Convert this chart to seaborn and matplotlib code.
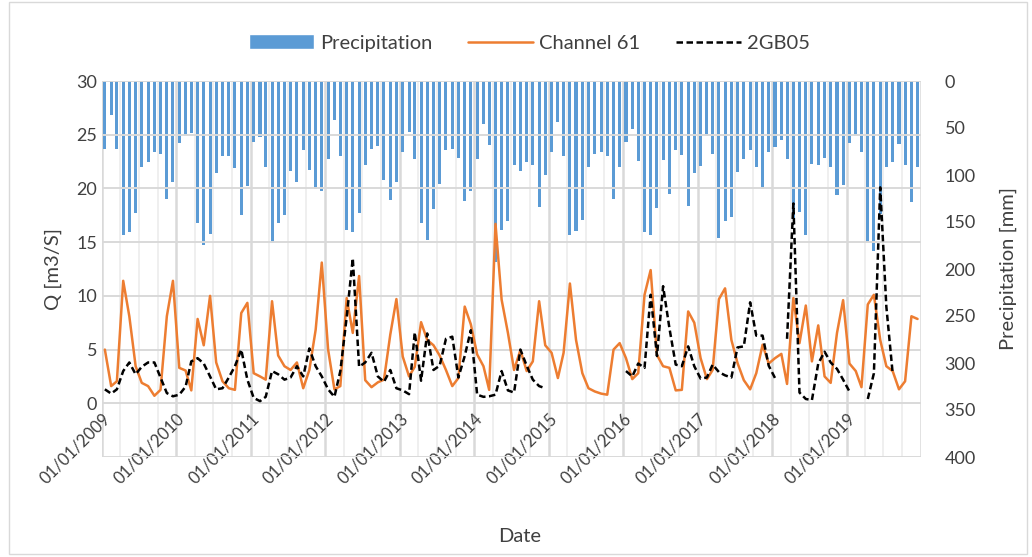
import numpy as np
import pandas as pd
import matplotlib.pyplot as plt
import matplotlib.dates as mdates
import seaborn as sns
from matplotlib.lines import Line2D
from matplotlib.patches import Patch, Rectangle
from matplotlib.ticker import FuncFormatter

# Monthly precipitation [mm], Jan 2009 - Dec 2019
precip = [72, 36.5, 72.7, 164, 161, 140, 91, 86, 75, 78, 125, 107,
          66, 57, 55, 151, 174, 163, 98, 80, 80, 93, 143, 112,
          65, 60, 91, 172, 151, 143, 96, 107, 73, 95, 115, 117,
          83, 41.5, 80, 159, 161, 140, 89, 72, 69, 105, 127, 107,
          76, 54, 83, 151, 169, 136, 110, 73, 72, 82, 128, 117,
          83, 46, 68, 193, 158, 149, 89, 96, 86, 89, 134, 100,
          75, 44, 80, 164, 160, 148, 91, 78, 75, 80, 126, 91,
          65, 51, 85, 161, 164, 135, 84, 120, 73, 79, 133, 98,
          90, 56, 78, 167, 149, 145, 97, 83, 73, 92, 115, 76,
          70, 63, 83, 147, 139, 164, 88, 89, 82, 91, 121, 111,
          66, 57, 76, 171, 181, 142, 91, 86, 67, 89, 129, 91]

# Discharge Q [m3/s]
channel_61 = [5.0, 1.6, 2.05, 11.4, 8.1, 3.45, 1.9, 1.6, 0.7, 1.25, 8.1, 11.4,
              3.3, 3.05, 1.2, 7.85, 5.4, 10.0, 3.8, 2.05, 1.4, 1.25, 8.4, 9.35,
              2.8, 2.5, 2.2, 9.5, 4.45, 3.45, 3.1, 3.8, 1.4, 3.1, 6.85, 13.1,
              5.0, 1.3, 1.6, 9.8, 6.55, 11.85, 2.15, 1.5, 1.95, 2.2, 6.4, 9.7,
              4.35, 2.5, 3.4, 7.55, 5.9, 5.4, 4.45, 3.1, 1.6, 2.35, 9.0, 7.35,
              4.55, 3.45, 1.25, 16.7, 9.65, 6.55, 3.1, 4.95, 3.0, 3.9, 9.5, 5.4,
              4.7, 2.35, 4.7, 11.15, 5.9, 2.8, 1.4, 1.1, 0.9, 0.8, 5.0, 5.6,
              4.2, 2.25, 2.8, 10.1, 12.4, 4.5, 3.45, 3.3, 1.2, 1.25, 8.55, 7.5,
              4.2, 2.25, 3.1, 9.7, 10.7, 5.9, 3.75, 2.15, 1.3, 2.8, 5.45, 3.7,
              4.2, 4.6, 1.8, 9.8, 5.6, 9.1, 3.9, 7.25, 2.5, 1.9, 6.55, 9.6,
              3.7, 3.0, 1.5, 9.2, 10.1, 5.9, 3.45, 3.0, 1.3, 2.05, 8.1, 7.85]

nan = np.nan
gb05 = [1.3, 0.9, 1.3, 3.0, 3.8, 2.7, 3.4, 3.8, 3.8, 2.4, 0.95, 0.65,
        0.8, 1.55, 3.9, 4.2, 3.7, 2.5, 1.3, 1.4, 2.4, 3.45, 5.0, 2.2,
        0.5, 0.2, 0.6, 3.0, 2.7, 2.2, 2.4, 3.45, 2.5, 5.1, 3.45, 2.5,
        1.3, 0.6, 3.0, 8.0, 13.5, 3.4, 3.8, 4.7, 2.5, 2.0, 3.1, 1.4,
        1.2, 0.85, 6.6, 2.1, 6.5, 3.1, 3.5, 6.0, 6.2, 2.4, 4.4, 6.8,
        0.8, 0.6, 0.65, 0.8, 3.0, 1.2, 1.0, 5.0, 3.5, 2.2, 1.6, 1.4,
        nan, nan, nan, nan, nan, nan, nan, nan, nan, nan, nan, nan,
        3.0, 2.5, 3.7, 3.3, 10.1, 4.4, 10.9, 7.0, 3.6, 3.45, 5.3, 3.45,
        2.3, 2.4, 3.6, 2.9, 2.6, 2.4, 5.2, 5.3, 9.4, 6.3, 6.3, 3.5,
        2.35, nan, 6.0, 18.6, 1.0, 0.4, 0.3, 3.7, 4.8, 3.8, 3.2, 2.2,
        1.1, nan, nan, 0.4, 2.8, 20.1, 9.0, 2.8, nan, nan, nan, nan]

dates = pd.date_range('2009-01-01', periods=len(precip), freq='MS') + pd.Timedelta(days=14)
df = pd.DataFrame({'date': dates, 'precip': precip, 'ch61': channel_61, 'gb05': gb05})

# split 2GB05 into pieces so the gaps stay open
gb = df[['date', 'gb05']].copy()
gb['seg'] = gb['gb05'].isna().cumsum()
gb = gb.dropna()

sns.set_style('white')
plt.rcParams['font.family'] = ['Lato', 'DejaVu Sans']
txt = '#404040'
dash = (0, (2.6, 1.4))

fig = plt.figure(figsize=(10.32, 5.57), dpi=100)
ax = fig.add_axes([102 / 1032, 1 - 457 / 557, 819 / 1032, 376 / 557])
ax2 = ax.twinx()

# precipitation bars hanging from the top
ax2.bar(df['date'], df['precip'], width=15, color='#5B9BD5', linewidth=0, zorder=2)
ax2.set_ylim(400, 0)
ax2.set_yticks(range(0, 401, 50))

sns.lineplot(data=df, x='date', y='ch61', color='#ED7D31', linewidth=1.8, ax=ax)
sns.lineplot(data=gb, x='date', y='gb05', units='seg', estimator=None, color='black',
             linewidth=1.8, linestyle=dash, ax=ax)

ax.set_zorder(ax2.get_zorder() + 1)
ax.patch.set_visible(False)

ax.set_xlim(pd.Timestamp('2009-01-01'), pd.Timestamp('2020-01-01'))
ax.set_ylim(-5, 30)
ax.set_yticks(range(-5, 31, 5))
ax.yaxis.set_major_formatter(FuncFormatter(lambda v, p: '' if v < 0 else f'{v:.0f}'))

ax.xaxis.set_major_locator(mdates.YearLocator())
ax.xaxis.set_minor_locator(mdates.MonthLocator(bymonth=[4, 7, 10]))
ax.xaxis.set_major_formatter(FuncFormatter(
    lambda v, p: '' if mdates.num2date(v).year > 2019 else mdates.num2date(v).strftime('%d/%m/%Y')))

# vertical grid lives on the back axes so it stays behind the bars
ax2.xaxis.set_visible(True)
ax2.tick_params(axis='x', which='both', length=0, labelbottom=False, labeltop=False)
ax2.set_axisbelow(True)
ax2.grid(which='major', axis='x', color='#d9d9d9', linewidth=1.8)
ax2.grid(which='minor', axis='x', color='#efefef', linewidth=1.4)
ax2.grid(which='both', axis='y', visible=False)

ax.grid(False)
ax.grid(which='major', axis='y', color='#d9d9d9', linewidth=1.4)

for a in (ax, ax2):
    for s in a.spines.values():
        s.set_visible(False)
ax.spines['bottom'].set_position(('data', 0))

ax.tick_params(axis='both', which='both', length=0, labelsize=13, labelcolor=txt)
ax.tick_params(axis='x', pad=5, labelsize=12)
ax2.tick_params(axis='y', length=0, labelsize=13, labelcolor=txt, pad=17)
for lab in ax.get_xticklabels():
    lab.set_rotation(45)
    lab.set_ha('right')
    lab.set_va('top')
    lab.set_rotation_mode('anchor')

ax.set_xlabel('Date', fontsize=14.5, color=txt)
ax.xaxis.set_label_coords(0.51, -0.19)
ax.set_ylabel('Q [m3/S]', fontsize=14.5, color=txt)
ax.yaxis.set_label_coords(-0.049, 0.5)
ax2.set_ylabel('Precipitation [mm]', fontsize=14.5, color=txt, rotation=90)
ax2.yaxis.set_label_coords(1.096, 0.5)

handles = [Patch(facecolor='#5B9BD5'),
           Line2D([], [], color='#ED7D31', linewidth=1.8),
           Line2D([], [], color='black', linewidth=1.8, linestyle=dash)]
fig.legend(handles, ['Precipitation', 'Channel 61', '2GB05'], loc='center', ncol=3,
           bbox_to_anchor=(0.513, 1 - 43 / 557), frameon=False, fontsize=14.5,
           handlelength=3.2, handletextpad=0.3, columnspacing=1.8, labelcolor=txt)

fig.patches.append(Rectangle((0.009, 0.006), 0.986, 0.99, transform=fig.transFigure,
                             fill=False, edgecolor='#d9d9d9', linewidth=1))

fig.savefig('out.png', dpi=100, facecolor='white')
